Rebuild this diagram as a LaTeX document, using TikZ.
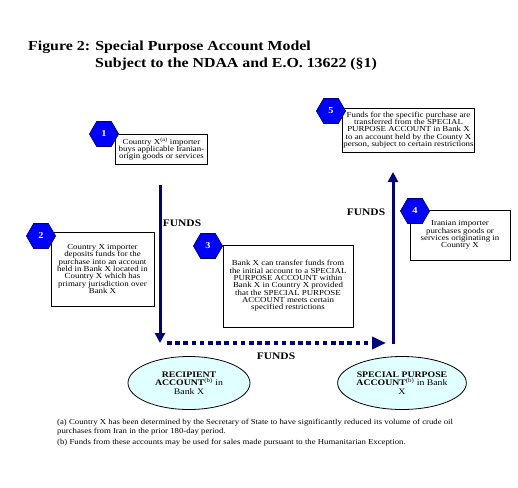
\documentclass[tikz,border=0pt]{standalone}
\usepackage{fontspec}
\setmainfont{Liberation Serif}[FakeStretch=1.15]
\usepackage{xcolor}
\usetikzlibrary{shapes.geometric,arrows.meta}
\definecolor{marino}{HTML}{000080}
\definecolor{azulhex}{HTML}{0000FF}
\definecolor{celeste}{HTML}{E0FFFF}

\begin{document}
\begin{tikzpicture}[x=1pt, y=-1pt,
  caja/.style={draw, line width=0.8pt, fill=white, align=center, inner sep=1pt,
    font=\fontsize{7.7}{7.3}\selectfont},
  hexa/.style={regular polygon, regular polygon sides=6, minimum size=29pt, inner sep=0pt,
    draw=marino, line width=0.8pt, fill=azulhex, text=white, font=\fontsize{9}{9}\selectfont\bfseries},
  cuenta/.style={ellipse, draw, line width=0.8pt, fill=celeste, align=center,
    minimum width=122pt, minimum height=53pt, inner sep=0pt, font=\fontsize{8.5}{8.4}\selectfont},
  flujo/.style={draw=marino, line width=3pt, -{Triangle[length=10pt,width=10pt]}},
  fondos/.style={font=\fontsize{10}{12}\selectfont\bfseries}]
  \fill[white] (0,0) rectangle (518,487);
  \useasboundingbox (0,0) rectangle (518,487);

  % title
  \node[anchor=west, font=\fontsize{13.8}{16}\selectfont\bfseries, inner sep=0pt] (tit1) at (28,47) {Figure 2: Special Purpose Account Model};
  \node[anchor=west, font=\fontsize{13.8}{16}\selectfont\bfseries, inner sep=0pt] (tit2) at (95,64) {Subject to the NDAA and E.O. 13622 (\S1)};

  % boxes
  \node[caja, minimum width=92pt, minimum height=30pt] (b1) at (161.5,149)
    {Country X\textsuperscript{(a)} importer\\buys applicable Iranian-\\origin goods or services};
  \node[caja, minimum width=103pt, minimum height=74pt] (b2) at (102.5,269)
    {Country X importer\\deposits funds for the\\purchase into an account\\held in Bank X located in\\Country X which has\\primary jurisdiction over\\Bank X};
  \node[caja, minimum width=130pt, minimum height=82pt] (b3) at (288,286)
    {Bank X can transfer funds from\\the initial account to a SPECIAL\\PURPOSE ACCOUNT within\\Bank X in Country X provided\\that the SPECIAL PURPOSE\\ACCOUNT meets certain\\specified restrictions};
  \node[caja, minimum width=100pt, minimum height=50pt] (b4) at (460,235)
    {Iranian importer\\purchases goods or\\services originating in\\Country X};
  \node[caja, minimum width=131pt, minimum height=44pt] (b5) at (408.5,130)
    {Funds for the specific purchase are\\transferred from the SPECIAL\\PURPOSE ACCOUNT in Bank X\\to an account held by the County X\\person, subject to certain restrictions};

  % numbers
  \node[hexa] (n1) at (104,134) {1};
  \node[hexa] (n2) at (41,236) {2};
  \node[hexa] (n3) at (208,246) {3};
  \node[hexa] (n4) at (415,211) {4};
  \node[hexa] (n5) at (331,111) {5};

  % accounts
  \node[cuenta] (rec) at (189,383) {\textbf{RECIPIENT}\\\textbf{ACCOUNT}\textsuperscript{(b)} in\\Bank X};
  \node[cuenta] (spa) at (402,383) {\textbf{SPECIAL PURPOSE}\\\textbf{ACCOUNT}\textsuperscript{(b)} in Bank\\X};

  % flows
  \coordinate (f1a) at (160,185);
  \coordinate (f1b) at (160,343);
  \coordinate (f2a) at (167,343);
  \coordinate (f2b) at (386,343);
  \coordinate (f3a) at (393,344);
  \coordinate (f3b) at (393,172);
  \draw[flujo] (f1a) -- (f1b);
  \draw[draw=marino, line width=4.5pt, dash pattern=on 4.5pt off 3.7pt,
    -{Triangle[length=14pt,width=12pt]}] (f2a) -- (f2b);
  \draw[flujo] (f3a) -- (f3b);
  \node[fondos] (lf1) at (182,223) {FUNDS};
  \node[fondos] (lf2) at (366,212) {FUNDS};
  \node[fondos] (lf3) at (276,356) {FUNDS};

  % notes
  \node[anchor=north west, align=left, inner sep=0pt, font=\fontsize{7.6}{9}\selectfont] (notas) at (57,419)
    {(a) Country X has been determined by the Secretary of State to have significantly reduced its volume of crude oil\\
     purchases from Iran in the prior 180-day period.\\[1.5pt]
     (b) Funds from these accounts may be used for sales made pursuant to the Humanitarian Exception.};
\end{tikzpicture}
\end{document}
